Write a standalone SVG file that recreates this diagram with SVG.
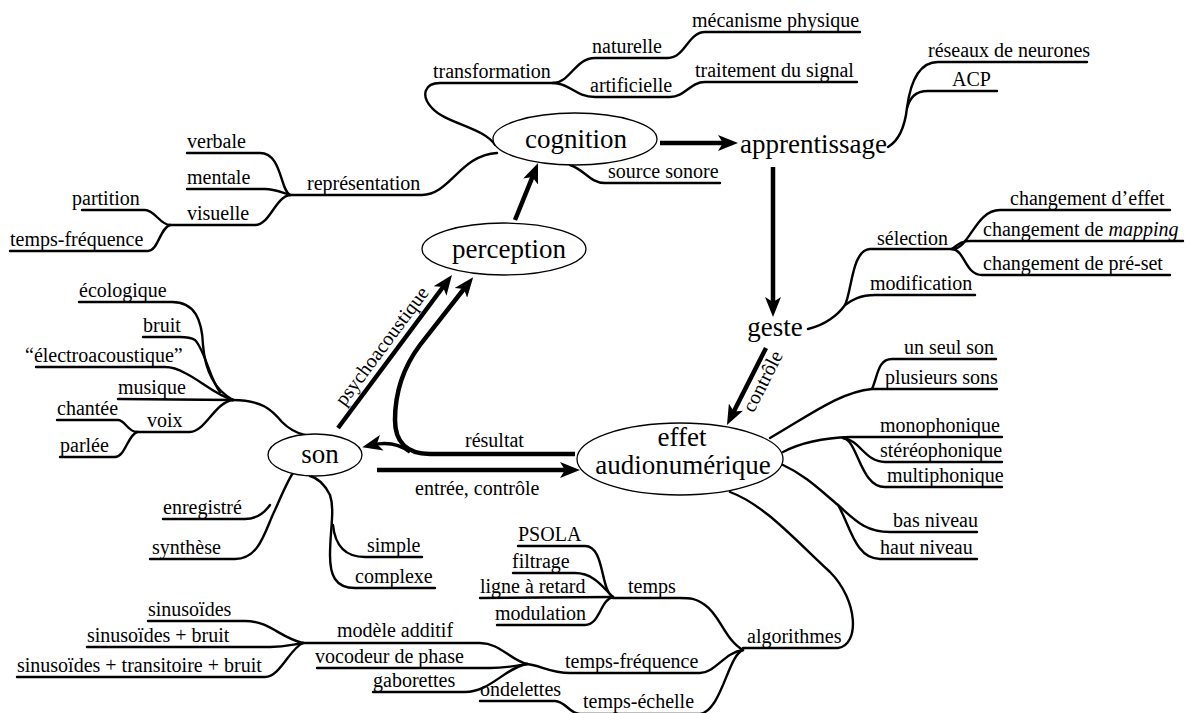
<svg xmlns="http://www.w3.org/2000/svg" width="1189" height="713" viewBox="0 0 1189 713" font-family="Liberation Serif, serif">
<style>
text{font-family:'Liberation Serif',serif;fill:#000}
.l{font-size:20px}
.n{font-size:27px;text-anchor:middle}
.b{fill:none;stroke:#000;stroke-width:2.4;stroke-linecap:round}
.a{fill:none;stroke:#000;stroke-width:4.5}
.e{fill:#fff;stroke:#000;stroke-width:1.3}
</style>
<defs>
<marker id="ah" markerUnits="userSpaceOnUse" viewBox="0 0 20 16" markerWidth="20" markerHeight="16" refX="10" refY="8" orient="auto">
<path d="M0,0 L20,8 L0,16 L5,8 Z" fill="#000"/>
</marker>
</defs>
<g id="connectors">
<path class="b" d="M495,145 C485,128 445,123 432,108 C420,95 425,83 440,83 H553"/>
<path class="b" d="M553,83 C570,83 575,58 595,58 H668 C685,58 688,32 705,32 H860"/>
<path class="b" d="M553,83 C570,83 575,97 595,97 H670 C685,97 690,82 705,82 H857"/>
<path class="b" d="M497,153 C460,155 450,195 422,195 H290"/>
<path class="b" d="M290,195 C280,190 282,153 260,153 H187"/>
<path class="b" d="M290,195 C280,192 275,189 265,189 H187"/>
<path class="b" d="M290,195 C275,197 270,225 255,225 H170"/>
<path class="b" d="M170,225 C160,225 155,210 145,210 H82"/>
<path class="b" d="M170,225 C160,228 158,251 148,251 H10"/>
<path class="b" d="M570,165 C585,170 590,183 605,183 H720"/>
<path class="b" d="M888,147 C900,140 905,125 907,108 C910,85 918,62 938,62 H1087"/>
<path class="b" d="M907,108 C910,98 915,91 928,91 H997"/>
<path class="b" d="M808,329 C825,325 838,315 845,305 C852,290 852,250 870,249 H952"/>
<path class="b" d="M845,305 C852,300 860,295 875,295 H975"/>
<path class="b" d="M952,249 C970,249 975,210 1000,210 H1170"/>
<path class="b" d="M952,249 C958,245 960,241 970,241 H1183"/>
<path class="b" d="M952,249 C965,250 965,275 982,275 H1170"/>
<path class="b" d="M770,438 C810,415 840,392 872,389 H997"/>
<path class="b" d="M872,389 C878,375 878,359 892,359 H996"/>
<path class="b" d="M783,452 C800,443 820,438 850,437 H1002"/>
<path class="b" d="M843,438 C860,440 865,462 885,462 H1002"/>
<path class="b" d="M843,438 C858,440 860,487 885,487 H1002"/>
<path class="b" d="M783,465 C805,475 820,490 838,505 C855,520 865,532 890,532 H977"/>
<path class="b" d="M838,505 C850,525 855,559 880,559 H977"/>
<path class="b" d="M730,492 C765,505 795,540 830,572 C858,600 860,645 838,648 H743"/>
<path class="b" d="M743,650 C725,640 720,615 705,605 C695,598 690,598 680,598 H613"/>
<path class="b" d="M613,597 C600,590 605,546 585,546 H518"/>
<path class="b" d="M613,597 C605,590 595,573 575,573 H513"/>
<path class="b" d="M613,597 L480,598"/>
<path class="b" d="M613,597 C600,600 600,625 585,625 H497"/>
<path class="b" d="M743,650 C725,652 715,673 700,673 H570 C550,673 540,665 527,664"/>
<path class="b" d="M303,643 H480 C500,643 510,660 527,664"/>
<path class="b" d="M527,664 C515,666 505,668 490,668 H317"/>
<path class="b" d="M527,664 C505,668 490,692 465,692 H373"/>
<path class="b" d="M303,643 C280,638 270,621 245,621 H148"/>
<path class="b" d="M303,643 C290,645 285,647 270,647 H87"/>
<path class="b" d="M303,643 C290,648 280,677 265,677 H17"/>
<path class="b" d="M743,650 C728,655 722,710 700,714 H580 C570,714 565,701 555,701 H480"/>
<path class="b" d="M233,400 C262,400 272,410 282,422 C290,430 296,433 305,435"/>
<path class="b" d="M233,400 C215,390 205,370 203,345 C202,320 195,302 172,302 H79"/>
<path class="b" d="M220,392 C210,380 205,350 195,340 C190,337 185,337 180,337 H143"/>
<path class="b" d="M233,400 C215,395 200,380 185,373 C178,369 172,367 165,367 H36"/>
<path class="b" d="M233,400 L118,399"/>
<path class="b" d="M233,400 C215,402 205,432 190,432 H137"/>
<path class="b" d="M137,432 C128,432 125,420 118,420 H57"/>
<path class="b" d="M137,432 C128,435 125,457 115,457 H60"/>
<path class="b" d="M293,473 C288,480 283,492 275,510 C265,530 260,559 235,559 H150"/>
<path class="b" d="M270,505 C265,512 258,519 245,519 H163"/>
<path class="b" d="M310,476 C318,478 325,485 330,495 C335,510 330,530 330,555 C330,575 335,588 355,588 H435"/>
<path class="b" d="M333,525 C335,545 345,557 365,557 H422"/>
<path class="a" d="M660,143 H728" marker-end="url(#ah)"/>
<path class="a" d="M773,167 V307" marker-end="url(#ah)"/>
<path class="a" d="M766,348 L731.5,416" marker-end="url(#ah)"/>
<path class="a" d="M515,220 L534.3,172.3" marker-end="url(#ah)"/>
<path class="a" d="M338,428 L446,283" marker-end="url(#ah)"/>
<path class="a" d="M575,454 H430 C405,454 395,440 395,420 C395,390 405,365 420,345 L467,285" marker-end="url(#ah)"/>
<path class="a" style="stroke-width:3.5" d="M410,452 C398,443 385,442 372,445" marker-end="url(#ah)"/>
<path class="a" d="M377,470 H570" marker-end="url(#ah)"/>
</g>
<g id="connector-labels">
<text class="l" x="465" y="447">résultat</text>
<text class="l" x="415" y="495">entrée, contrôle</text>
<text class="l" text-anchor="middle" transform="translate(383,347) rotate(-53.3)" y="5">psychoacoustique</text>
<text class="l" text-anchor="middle" transform="translate(764,382) rotate(-63)" y="5">contrôle</text>
</g>
<g id="cognition"><ellipse class="e" cx="575" cy="139" rx="82" ry="26"/><text class="n" x="576" y="148">cognition</text></g>
<g id="perception"><ellipse class="e" cx="504" cy="249" rx="82" ry="26"/><text class="n" x="509" y="258">perception</text></g>
<g id="son"><ellipse class="e" cx="315" cy="455" rx="47" ry="21"/><text class="n" x="320" y="463">son</text></g>
<g id="effet"><ellipse class="e" cx="680" cy="459" rx="103" ry="36"/><text class="n" x="682" y="446">effet</text><text class="n" x="683" y="474">audionumérique</text></g>
<g id="apprentissage"><text style="font-size:27px" x="740" y="153">apprentissage</text></g>
<g id="geste"><text class="n" x="775" y="336">geste</text></g>
<g id="labels">
<text class="l" x="692" y="27">mécanisme physique</text>
<text class="l" x="592" y="53">naturelle</text>
<text class="l" x="433" y="78">transformation</text>
<text class="l" x="590" y="92">artificielle</text>
<text class="l" x="695" y="77">traitement du signal</text>
<text class="l" x="608" y="178">source sonore</text>
<text class="l" x="928" y="57">réseaux de neurones</text>
<text class="l" x="952" y="86">ACP</text>
<text class="l" x="307" y="190">représentation</text>
<text class="l" x="187" y="148">verbale</text>
<text class="l" x="187" y="184">mentale</text>
<text class="l" x="187" y="220">visuelle</text>
<text class="l" x="72" y="205">partition</text>
<text class="l" x="10" y="246">temps-fréquence</text>
<text class="l" x="877" y="245">sélection</text>
<text class="l" x="870" y="290">modification</text>
<text class="l" x="1010" y="205">changement d’effet</text>
<text class="l" x="983" y="236">changement de <tspan font-style="italic">mapping</tspan></text>
<text class="l" x="983" y="270">changement de pré-set</text>
<text class="l" x="79" y="297">écologique</text>
<text class="l" x="143" y="332">bruit</text>
<text class="l" x="25" y="362">“électroacoustique”</text>
<text class="l" x="118" y="394">musique</text>
<text class="l" x="147" y="427">voix</text>
<text class="l" x="57" y="415">chantée</text>
<text class="l" x="60" y="452">parlée</text>
<text class="l" x="163" y="514">enregistré</text>
<text class="l" x="152" y="554">synthèse</text>
<text class="l" x="367" y="552">simple</text>
<text class="l" x="355" y="583">complexe</text>
<text class="l" x="148" y="616">sinusoïdes</text>
<text class="l" x="87" y="642">sinusoïdes + bruit</text>
<text class="l" x="17" y="672">sinusoïdes + transitoire + bruit</text>
<text class="l" x="337" y="637">modèle additif</text>
<text class="l" x="315" y="663">vocodeur de phase</text>
<text class="l" x="373" y="687">gaborettes</text>
<text class="l" x="480" y="696">ondelettes</text>
<text class="l" x="583" y="708">temps-échelle</text>
<text class="l" x="518" y="541">PSOLA</text>
<text class="l" x="512" y="568">filtrage</text>
<text class="l" x="480" y="593">ligne à retard</text>
<text class="l" x="495" y="620">modulation</text>
<text class="l" x="628" y="593">temps</text>
<text class="l" x="565" y="668">temps-fréquence</text>
<text class="l" x="747" y="643">algorithmes</text>
<text class="l" x="904" y="354">un seul son</text>
<text class="l" x="885" y="384">plusieurs sons</text>
<text class="l" x="880" y="432">monophonique</text>
<text class="l" x="880" y="457">stéréophonique</text>
<text class="l" x="887" y="482">multiphonique</text>
<text class="l" x="893" y="527">bas niveau</text>
<text class="l" x="880" y="554">haut niveau</text>
</g>
</svg>
